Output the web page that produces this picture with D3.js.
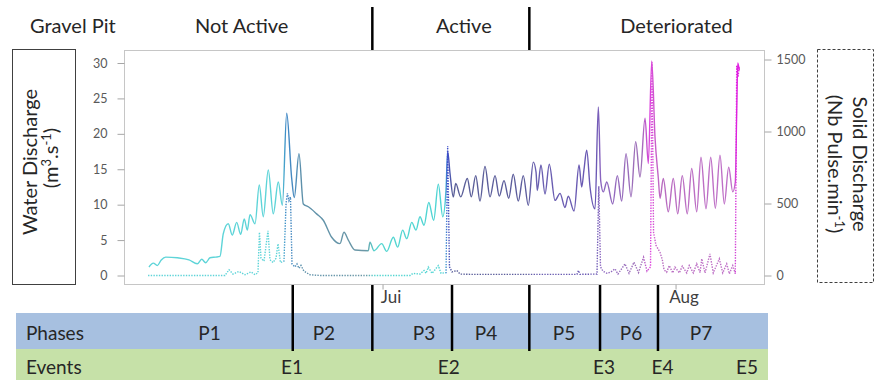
<!DOCTYPE html>
<html><head><meta charset="utf-8">
<script src="https://cdn.jsdelivr.net/npm/d3@7"></script>
<style>
html,body{margin:0;padding:0;background:#fff;}
svg{display:block;font-family:Lato,"Liberation Sans",Arial,sans-serif;}
</style></head><body>
<svg id="chart" width="876" height="380"></svg>
<script>
// ---------- data (time = days since 1 June) ----------
const monthTicks = [30, 61];
const monthLabels = ["Jui", "Aug"];
const leftTicks = [0, 5, 10, 15, 20, 25, 30];
const rightTicks = [0, 500, 1000, 1500];
const stateLabels = ["Not Active", "Active", "Deteriorated"];
const stateLabelDays = [15.1, 38.6, 61.1];
const stateBoundaries = [28.92, 45.53];
const phaseLabels = ["P1", "P2", "P3", "P4", "P5", "P6", "P7"];
const phaseLabelDays = [11.69, 23.79, 34.39, 40.95, 49.2, 56.29, 63.69];
const phaseBoundaries = [20.5, 28.92, 37.35, 45.53, 53.01, 59.14];
const eventLabels = ["E1", "E2", "E3", "E4", "E5"];
const eventLabelDays = [20.43, 37.0, 53.43, 59.62, 68.56];

// water discharge (m3/s): [day, value]
const waterDischarge = [
[5.29,1.2],[5.75,1.75],[6.17,1.4],[6.59,2.2],[7.06,2.6],[8.29,2.5],[9.52,2.2],[10.40,1.65],[10.87,2.3],[11.29,1.8],
[11.75,2.5],[12.35,2.6],[12.80,2.7],[13.15,5.9],[13.68,7.3],[14.10,5.7],[14.57,7.5],[14.99,5.8],[15.37,8.0],[15.69,6.4],
[15.98,8.6],[16.51,7.3],[16.96,12.8],[17.38,8.3],[17.91,14.9],[18.44,8.7],[18.97,13.2],[19.40,9.9],[19.86,22.9],[20.39,13.7],
[20.66,11.0],[21.16,17.2],[21.62,10.1],[22.15,9.7],[23.03,8.7],[23.73,7.8],[24.62,5.4],[25.50,4.5],[25.92,6.1],[26.38,5.0],
[27.09,3.6],[28.49,3.5],[28.67,4.7],[29.10,3.5],[29.91,4.5],[30.44,3.4],[31.14,5.4],[31.60,4.0],[32.13,6.4],[32.56,5.2],
[33.09,7.5],[33.54,6.4],[33.96,8.3],[34.39,7.1],[34.89,10.3],[35.41,7.8],[35.90,12.9],[36.37,8.3],[36.71,12.0],[36.89,17.5],
[37.14,14.4],[37.49,11.1],[37.74,13.0],[38.27,11.1],[38.97,13.7],[39.39,11.1],[39.86,14.1],[40.31,10.5],[40.84,15.4],[41.37,11.1],
[41.90,14.1],[42.35,11.2],[42.85,13.4],[43.35,10.9],[43.83,14.3],[44.36,10.5],[44.89,14.1],[45.42,9.9],[45.95,16.0],[46.24,14.6],
[46.37,12.0],[46.76,15.6],[47.19,11.5],[47.64,15.7],[48.25,10.6],[48.78,11.6],[49.30,9.6],[49.65,11.2],[50.26,9.1],[50.79,15.6],
[51.07,12.5],[51.31,14.9],[51.60,17.7],[51.95,12.5],[52.48,9.4],[52.83,23.8],[53.08,13.4],[53.36,11.8],[53.72,13.2],[54.35,10.1],
[54.84,14.1],[55.30,10.5],[55.76,17.2],[56.29,11.1],[56.78,18.9],[57.24,13.9],[57.77,22.2],[58.12,15.8],[58.48,30.3],[58.83,19.4],
[59.18,13.7],[59.36,10.9],[59.70,13.7],[60.23,9.0],[60.76,13.7],[61.23,8.7],[61.71,14.1],[62.24,8.7],[62.71,15.1],[63.24,9.0],
[63.69,16.7],[64.22,9.4],[64.72,16.7],[65.21,9.5],[65.70,17.0],[66.16,10.1],[66.62,15.3],[67.05,11.8],[67.32,13.2],[67.47,23.1],
[67.58,30.0],[67.74,29.0]
];

// solid discharge (Nb pulse/min): [day, value]
const solidDischarge = [
[5.19,0],[13.33,0],[13.76,40],[14.18,10],[14.81,28],[15.45,5],[16.08,25],[16.51,5],[16.82,20],[16.98,300],
[17.14,120],[17.46,100],[17.88,310],[18.09,110],[18.41,90],[18.73,120],[18.94,220],[19.20,90],[19.57,100],[19.79,500],
[19.94,570],[20.10,520],[20.26,545],[20.42,80],[20.74,60],[20.95,80],[21.16,50],[21.37,70],[21.69,30],[22.33,5],
[23.38,0],[32.91,0],[33.22,15],[33.96,10],[34.39,35],[34.60,15],[34.84,58],[35.23,15],[35.55,40],[35.90,69],
[36.19,15],[36.71,20],[36.89,900],[37.08,60],[37.35,25],[37.85,35],[38.20,10],[39.25,8],[50.57,8],[50.73,35],
[50.89,8],[52.69,10],[52.88,620],[53.06,60],[53.32,30],[53.75,15],[54.17,25],[54.59,46],[54.91,10],[55.65,81],
[56.08,15],[56.60,92],[57.08,20],[57.61,127],[57.98,30],[58.35,60],[58.51,1480],[58.67,300],[58.93,210],[59.36,160],
[59.60,110],[59.78,40],[60.06,23],[60.34,69],[60.70,18],[60.94,58],[61.40,18],[61.71,65],[62.18,18],[62.45,69],
[62.88,18],[63.24,81],[63.59,20],[63.77,116],[64.12,18],[64.64,150],[64.99,18],[65.63,116],[65.99,18],[66.41,81],
[66.69,12],[67.05,69],[67.32,12],[67.47,1460],[67.61,1380],[67.74,1450]
];

// colour of the traces along time: [day, colour]
const colorStops = [
[5,"#5ed4d8"],[19.3,"#5ed4d8"],[19.8,"#3a84c4"],[20.6,"#4a8cc0"],[21.4,"#5d90aa"],[28.2,"#6c98a6"],[29.2,"#56d6d0"],
[36.6,"#4ed4d4"],[36.85,"#3a4ccc"],[37.4,"#5a5f98"],[45.2,"#5c5c9c"],[46.2,"#6a60b0"],[52.6,"#6a58b4"],[53.1,"#8c66c0"],
[57.4,"#a070b8"],[58.3,"#e040e0"],[58.9,"#c860c8"],[59.5,"#b86cc0"],[67.2,"#c070c8"],[67.45,"#e020e0"],[68,"#e020e0"]
];

// ---------- drawing ----------
const svg = d3.select("#chart");
const plot = {left: 124.5, right: 764.5, top: 50.5, bottom: 284.5};
const origin = Date.UTC(2013, 5, 1);
const toDate = d => new Date(origin + d * 864e5);
const x = d3.scaleUtc().domain([toDate(2.7), toDate(70.41)]).range([plot.left, plot.right]);
const xd = d => x(toDate(d));
const yL = d3.scaleLinear().domain([0, 30]).range([275.5, 63]);
const yR = d3.scaleLinear().domain([0, 1500]).range([275.5, 59.5]);

const textCol = "#262626";

// bands
svg.append("rect").attr("x", 16).attr("y", 313).attr("width", 752).attr("height", 36).attr("fill", "#a7c0e0");
svg.append("rect").attr("x", 16).attr("y", 349).attr("width", 752).attr("height", 31).attr("fill", "#c6e1a8");

svg.append("text").attr("x", 26).attr("y", 340).attr("font-size", 19).attr("fill", textCol).text("Phases");
svg.append("text").attr("x", 26).attr("y", 374).attr("font-size", 19).attr("fill", textCol).text("Events");
svg.selectAll("text.ph").data(phaseLabels).join("text").attr("class", "ph")
  .attr("x", (d, i) => xd(phaseLabelDays[i])).attr("y", 340).attr("text-anchor", "middle")
  .attr("font-size", 19).attr("fill", textCol).text(d => d);
svg.selectAll("text.ev").data(eventLabels).join("text").attr("class", "ev")
  .attr("x", (d, i) => xd(eventLabelDays[i])).attr("y", 374).attr("text-anchor", "middle")
  .attr("font-size", 19).attr("fill", textCol).text(d => d);

// header
svg.append("text").attr("x", 30).attr("y", 33).attr("font-size", 20).attr("fill", textCol).text("Gravel Pit");
svg.selectAll("text.st").data(stateLabels).join("text").attr("class", "st")
  .attr("x", (d, i) => xd(stateLabelDays[i])).attr("y", 33).attr("text-anchor", "middle")
  .attr("font-size", 20).attr("fill", textCol).text(d => d);

// plot frame
svg.append("rect").attr("x", plot.left).attr("y", plot.top)
  .attr("width", plot.right - plot.left).attr("height", plot.bottom - plot.top)
  .attr("fill", "#fff").attr("stroke", "#c6c6c6").attr("stroke-width", 1);

// gradient
const defs = svg.append("defs");
const grad = defs.append("linearGradient").attr("id", "timeGrad")
  .attr("gradientUnits", "userSpaceOnUse")
  .attr("x1", plot.left).attr("x2", plot.right).attr("y1", 0).attr("y2", 0);
grad.selectAll("stop").data(colorStops).join("stop")
  .attr("offset", d => (xd(d[0]) - plot.left) / (plot.right - plot.left))
  .attr("stop-color", d => d[1]);

// solid discharge (dotted)
const solidLine = d3.line().x(d => xd(d[0])).y(d => yR(d[1]));
svg.append("path").datum(solidDischarge).attr("d", solidLine)
  .attr("fill", "none").attr("stroke", "url(#timeGrad)").attr("stroke-width", 1.4)
  .attr("stroke-dasharray", "1.4 1.3");

// water discharge (solid)
const waterLine = d3.line().x(d => xd(d[0])).y(d => yL(d[1])).curve(d3.curveMonotoneX);
svg.append("path").datum(waterDischarge).attr("d", waterLine)
  .attr("fill", "none").attr("stroke", "url(#timeGrad)").attr("stroke-width", 1.4)
  .attr("stroke-linejoin", "round");

// axes
function styleAxis(g, size) {
  g.select(".domain").remove();
  g.attr("font-family", null).attr("font-size", null);
  g.selectAll(".tick line").attr("stroke", "#a6a6a6");
  g.selectAll(".tick text").attr("fill", "#595959").attr("font-size", size);
}
svg.append("g").attr("transform", `translate(${plot.left},0)`)
  .call(d3.axisLeft(yL).tickValues(leftTicks).tickSize(7).tickPadding(10).tickFormat(d3.format("d")))
  .call(g => styleAxis(g, 12.5));
svg.append("g").attr("transform", `translate(${plot.right},0)`)
  .call(d3.axisRight(yR).tickValues(rightTicks).tickSize(7).tickPadding(5).tickFormat(d3.format("d")))
  .call(g => styleAxis(g, 12.5));
svg.append("g").attr("transform", `translate(0,${plot.bottom})`)
  .call(d3.axisBottom(x).tickValues(monthTicks.map(toDate)).tickSize(5).tickPadding(1)
    .tickFormat((d, i) => monthLabels[i]))
  .call(g => { styleAxis(g, 17); g.selectAll(".tick text").attr("dx", 8).attr("fill", "#404040"); });

// separators
svg.selectAll("line.sepB").data(phaseBoundaries).join("line").attr("class", "sepB")
  .attr("x1", d => xd(d)).attr("x2", d => xd(d)).attr("y1", 285).attr("y2", 351)
  .attr("stroke", "#000").attr("stroke-width", 2.5);
svg.selectAll("line.sepT").data(stateBoundaries).join("line").attr("class", "sepT")
  .attr("x1", d => xd(d)).attr("x2", d => xd(d)).attr("y1", 7).attr("y2", 50)
  .attr("stroke", "#000").attr("stroke-width", 2.5);

// left title box
svg.append("rect").attr("x", 12.5).attr("y", 49.5).attr("width", 63).attr("height", 235)
  .attr("fill", "none").attr("stroke", "#404040").attr("stroke-width", 1);
svg.append("text").attr("transform", "translate(36.5,162) rotate(-90)")
  .attr("text-anchor", "middle").attr("font-size", 20).attr("fill", textCol).text("Water Discharge");
const t2 = svg.append("text").attr("transform", "translate(57.5,158) rotate(-90)")
  .attr("text-anchor", "middle").attr("font-size", 20).attr("fill", textCol);
t2.append("tspan").text("(m");
t2.append("tspan").attr("dy", -7).attr("font-size", 13).text("3");
t2.append("tspan").attr("dy", 7).text(".s");
t2.append("tspan").attr("dy", -7).attr("font-size", 13).text("-1");
t2.append("tspan").attr("dy", 7).text(")");

// right title box
svg.append("rect").attr("x", 817.5).attr("y", 49.5).attr("width", 56).attr("height", 233)
  .attr("fill", "none").attr("stroke", "#404040").attr("stroke-width", 1).attr("stroke-dasharray", "3 2");
svg.append("text").attr("transform", "translate(853,164) rotate(90)")
  .attr("text-anchor", "middle").attr("font-size", 20).attr("fill", textCol).text("Solid Discharge");
const t3 = svg.append("text").attr("transform", "translate(828,164) rotate(90)")
  .attr("text-anchor", "middle").attr("font-size", 20).attr("fill", textCol);
t3.append("tspan").text("(Nb Pulse.min");
t3.append("tspan").attr("dy", -7).attr("font-size", 13).text("-1");
t3.append("tspan").attr("dy", 7).text(")");
</script>
</body></html>
